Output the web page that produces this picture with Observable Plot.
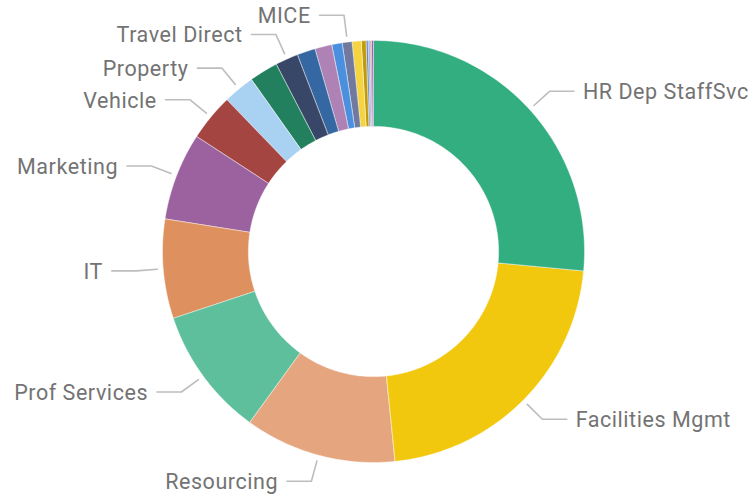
<!DOCTYPE html>
<html>
<head>
<meta charset="utf-8">
<script src="https://cdn.jsdelivr.net/npm/d3@7"></script>
<script src="https://cdn.jsdelivr.net/npm/@observablehq/plot@0.6"></script>
<style>
  html, body { margin: 0; padding: 0; background: #fff; }
  #chart svg text { letter-spacing: 0.55px; }
</style>
</head>
<body>
<div id="chart"></div>
<script>
// Categories in clockwise order starting at 12 o'clock (unlabelled slices have no visible name)
const categories = ["HR Dep StaffSvc", "Facilities Mgmt", "Resourcing", "Prof Services", "IT", "Marketing",
  "Vehicle", "Property", "Other 1", "Travel Direct", "Other 2", "Other 3", "Other 4", "MICE",
  "Other 5", "Other 6", "Other 7", "Other 8", "Other 9", "Other 10"];
// Share of total (%)
const values = [26.5, 21.9, 11.6, 9.9, 7.6, 6.7, 3.6, 2.4, 2.2, 1.75, 1.4, 1.3, 0.8, 0.75, 0.7, 0.36, 0.15, 0.15, 0.12, 0.12];
const colors = ["#33AE81", "#F2C80F", "#E5A67F", "#5DBF9B", "#DE915E", "#9B629F", "#A44542", "#A9D1F2",
  "#23805F", "#384667", "#3568A3", "#AE82B4", "#4A90DE", "#717A9E", "#F5D440", "#C39A0B",
  "#5E7FC0", "#8AB0E5", "#E07A8D", "#8A6BB0"];
// Slices that carry a data label
const labeled = ["HR Dep StaffSvc", "Facilities Mgmt", "Resourcing", "Prof Services", "IT", "Marketing",
  "Vehicle", "Property", "Travel Direct", "MICE"];

const rOuter = 1, rInner = 0.593;
const arcs = d3.pie().sort(null)(values);

// slice polygons in unit coordinates
const slicePts = [];
arcs.forEach((a, i) => {
  const cat = categories[i];
  const n = Math.max(2, Math.ceil((a.endAngle - a.startAngle) / (2 * Math.PI) * 360));
  for (let k = 0; k <= n; k++) {
    const t = a.startAngle + (a.endAngle - a.startAngle) * k / n;
    slicePts.push({cat, x: rOuter * Math.sin(t), y: rOuter * Math.cos(t)});
  }
  for (let k = n; k >= 0; k--) {
    const t = a.startAngle + (a.endAngle - a.startAngle) * k / n;
    slicePts.push({cat, x: rInner * Math.sin(t), y: rInner * Math.cos(t)});
  }
});

// leader lines and labels
const r1 = 1.028, r2 = 1.128, hLen = 0.116, gap = 0.042;
const leaderPts = [];
const labels = [];
arcs.forEach((a, i) => {
  const cat = categories[i];
  if (!labeled.includes(cat)) return;
  const m = (a.startAngle + a.endAngle) / 2;
  const s = Math.sin(m), c = Math.cos(m);
  const right = s >= 0;
  const ex = r2 * s, ey = r2 * c;
  const hx = ex + (right ? hLen : -hLen);
  leaderPts.push({cat, x: r1 * s, y: r1 * c});
  leaderPts.push({cat, x: ex, y: ey});
  leaderPts.push({cat, x: hx, y: ey});
  labels.push({cat, right, x: hx + (right ? gap : -gap), y: ey});
});

const chart = Plot.plot({
  width: 752,
  height: 497,
  margin: 0,
  x: {domain: [-1, 1], range: [162, 584], axis: null},
  y: {domain: [-1, 1], range: [462, 40], axis: null},
  color: {domain: categories, range: colors},
  style: {fontFamily: "Roboto, 'DejaVu Sans', sans-serif", background: "#fff"},
  marks: [
    Plot.line(slicePts, {x: "x", y: "y", z: "cat", fill: "cat", stroke: "#fff", strokeWidth: 0.6, strokeOpacity: 0.7, curve: "linear-closed"}),
    Plot.line(leaderPts, {x: "x", y: "y", z: "cat", stroke: "#BDBDBD", strokeWidth: 1.6}),
    Plot.text(labels.filter(d => d.right), {x: "x", y: "y", text: "cat", textAnchor: "start", fill: "#737373", fontSize: 21.5, dy: 1}),
    Plot.text(labels.filter(d => !d.right), {x: "x", y: "y", text: "cat", textAnchor: "end", fill: "#737373", fontSize: 21.5, dy: 1})
  ]
});
document.getElementById("chart").appendChild(chart);
</script>
</body>
</html>
